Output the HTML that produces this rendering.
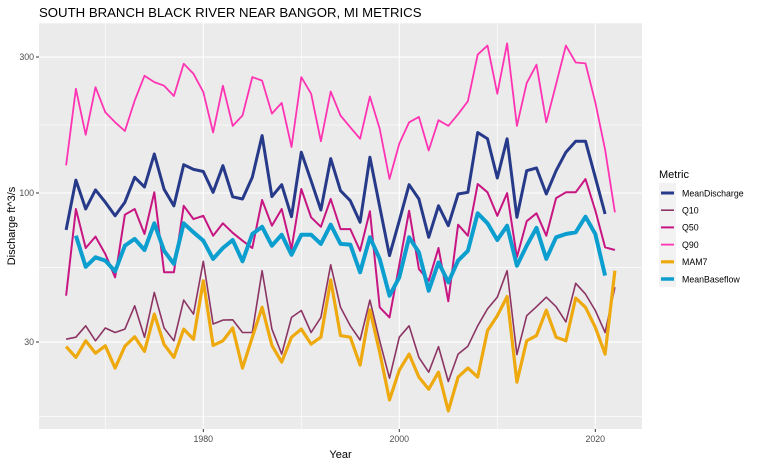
<!DOCTYPE html>
<html><head><meta charset="utf-8">
<style>
html,body{margin:0;padding:0;background:#fff;}
svg{display:block;font-family:"Liberation Sans",Arial,sans-serif;}
</style></head>
<body>
<svg id="chart" width="757" height="464" viewBox="0 0 757 464" xmlns="http://www.w3.org/2000/svg">
<text x="39" y="17" font-size="13.2" fill="#000">SOUTH BRANCH BLACK RIVER NEAR BANGOR, MI  METRICS</text>
<rect x="39" y="23.3" width="603" height="405.7" fill="#EBEBEB"/>
<g id="grid"></g>
<g id="series"></g>
<g id="axes"></g>
<text x="340.5" y="458" font-size="11" text-anchor="middle" fill="#000">Year</text>
<text transform="translate(15,226) rotate(-90)" font-size="11" text-anchor="middle" fill="#000">Discharge ft^3/s</text>
<g id="legend">
<text x="659" y="178" font-size="11" fill="#000">Metric</text>
<rect x="659" y="183" width="17" height="104" fill="#F2F2F2"/>
</g>
</svg>
<script>
const years = [];
for (let y = 1966; y <= 2022; y++) years.push(y);

const meanDischarge = [74.2,111,87.9,102.5,92.8,83.2,92.8,113.5,105,137,103,90.2,125.7,121,119,100.6,124.7,97,
95.3,113.5,159,97.1,106.9,82.6,139,110.4,87.2,132,101.9,94,79,133.5,89.5,60.3,80,106.9,95.3,69.9,
90.2,76.8,99.2,100.6,163,155,112.9,155,82.2,119.7,122.4,99.2,119.7,139,152,152,113.5,84.4,null];
const q10 = [30.7,31.2,34.2,30.3,33.6,32.4,33.3,40.2,31.2,44.8,33.6,30.3,42.1,37.6,57.6,34.7,35.8,35.9,
32.4,32.4,53.4,33.3,27.2,36.6,38.7,32.4,36.6,56,39.7,34.2,30.5,42.1,30.3,22.4,31.2,34.2,26.5,23.5,
28.9,21.8,27.2,29.0,34.2,39.2,43.1,53.4,27.1,37.1,39.9,43.1,39.9,35.3,48.2,44.2,38.7,32.4,46.7];
const q50 = [43.6,87.9,64.1,70.3,61.1,50.6,83.9,87.9,71.8,100.6,52.7,52.7,90.2,81.0,83.2,70.8,78.3,72.5,
68,64.1,94.5,76.8,87.9,63.6,103.3,82.2,76.1,95.3,74.7,74.7,62.7,86.3,39.7,36.6,56,86.7,54.1,
49.2,64.1,41.7,77.4,70.8,107.5,100.6,83.2,99.8,59.5,79.6,84.9,70.8,96,100.6,100.6,112,86.9,64.5,63.1];
const q90 = [125,232,160,235,192,177,165,211,258,245,238,219,284,262,226,163,238,172,
187,255,248,190,207,145,255,223,152,227,187,170,155,218,168,112,149,177,185,141,
180,172,189,210,306,329,223,335,172,243,282,177,241,329,287,285,208,142,85.5];
const mam7 = [28.9,26.5,30.3,27.4,29.1,24.3,29.0,31.3,27.8,37.6,29.4,26.5,33.3,30.7,49.2,29.2,30.3,33.6,
24.3,31.2,39.7,29.2,25.5,31.2,33.3,29.5,31.2,49.5,31.6,31.2,24.9,38.9,27.6,18.8,23.9,27.2,22.6,20.5,
23.5,17.2,22.6,24.3,22.6,32.9,37.1,43.3,21.7,30.3,31.6,38.8,31.2,30.3,42.8,39.7,33.8,27.2,53.4];
const meanBaseflow = [null,70.8,55.1,59.5,57.9,53.1,65.3,69.0,63.1,78.3,62.7,56.4,78.3,72.8,68.0,58.7,64.1,68.4,
57.6,71.8,76.1,65.3,71.4,60.7,71.4,71.4,66.3,77.4,66.3,65.9,52.7,69.9,58.7,43.6,50.6,69.9,61.9,45.4,
57.1,48.6,57.9,62.7,84.9,78.3,68.4,76.8,55.6,65.3,75.4,58.7,69.9,71.8,72.8,82.6,71.8,51.3,null];

const yTicks = [30, 100, 300];
const yMinor = [16.43, 54.77, 173.2];
const xTicks = [1980, 2000, 2020];
const xMinor = [1970, 1990, 2010];

const NS = "http://www.w3.org/2000/svg";
function xScale(yr){ return 399.3 + (yr - 2000) * 9.8; }
function yScale(v){ return 193 - Math.log10(v / 100) * 285; }
function mk(tag, attrs, parent){
  const e = document.createElementNS(NS, tag);
  for (const k in attrs) e.setAttribute(k, attrs[k]);
  parent.appendChild(e);
  return e;
}
const grid = document.getElementById('grid');
const L = 39, R = 642, T = 23.3, B = 429;
yMinor.forEach(v => {
  const l = mk('line', {x1:L, x2:R, y1:yScale(v), y2:yScale(v), stroke:'#fff', 'stroke-width':0.6}, grid);
  
  
});
xMinor.forEach(v => {
  const l = mk('line', {x1:xScale(v), x2:xScale(v), y1:T, y2:B, stroke:'#fff', 'stroke-width':0.6}, grid);
  
  
});
yTicks.forEach(v => {
  const l = mk('line', {x1:L, x2:R, y1:yScale(v), y2:yScale(v), stroke:'#fff', 'stroke-width':1.1}, grid);
  
  
});
xTicks.forEach(v => {
  const l = mk('line', {x1:xScale(v), x2:xScale(v), y1:T, y2:B, stroke:'#fff', 'stroke-width':1.1}, grid);
  
  
});

const axes = document.getElementById('axes');
yTicks.forEach(v => {
  const y = yScale(v);
  const t = mk('line', {x1:36, x2:39, y1:y, y2:y, stroke:'#333', 'stroke-width':1}, axes);
  
  
  const lb = mk('text', {x:34, y:y + 3.2, 'font-size':8.8, 'text-anchor':'end', fill:'#4D4D4D'}, axes);
  lb.textContent = String(v);
  
  
});
xTicks.forEach(v => {
  const x = xScale(v);
  const t = mk('line', {x1:x, x2:x, y1:429, y2:432, stroke:'#333', 'stroke-width':1}, axes);
  
  
  const lb = mk('text', {x:x, y:442, 'font-size':8.8, 'text-anchor':'middle', fill:'#4D4D4D'}, axes);
  lb.textContent = String(v);
  
  
});

const seriesDefs = [
  {name:'MeanDischarge', data:meanDischarge, color:'#273A89', w:3},
  {name:'Q10', data:q10, color:'#8C3564', w:1.6},
  {name:'Q50', data:q50, color:'#C71682', w:2},
  {name:'Q90', data:q90, color:'#FF34B3', w:1.8},
  {name:'MAM7', data:mam7, color:'#EEA90F', w:3.2},
  {name:'MeanBaseflow', data:meanBaseflow, color:'#0C9ECF', w:4}
];
const sg = document.getElementById('series');
seriesDefs.forEach(s => {
  let d = '', pen = false;
  s.data.forEach((v, i) => {
    if (v === null || v === undefined) { pen = false; return; }
    d += (pen ? 'L' : 'M') + xScale(years[i]).toFixed(1) + ',' + yScale(v).toFixed(1);
    pen = true;
  });
  const p = mk('path', {d:d, fill:'none', stroke:s.color, 'stroke-width':s.w, 'stroke-linejoin':'round'}, sg);
  
  
});

const lg = document.getElementById('legend');
seriesDefs.forEach((s, i) => {
  const y = 193 + i * 17.2;
  const k = mk('line', {x1:661, x2:674, y1:y, y2:y, stroke:s.color, 'stroke-width':Math.min(s.w, 3.5)}, lg);
  
  
  const t = mk('text', {x:682, y:y + 3.3, 'font-size':8.8, fill:'#000'}, lg);
  t.textContent = s.name;
  
  
});
</script>
</body></html>
